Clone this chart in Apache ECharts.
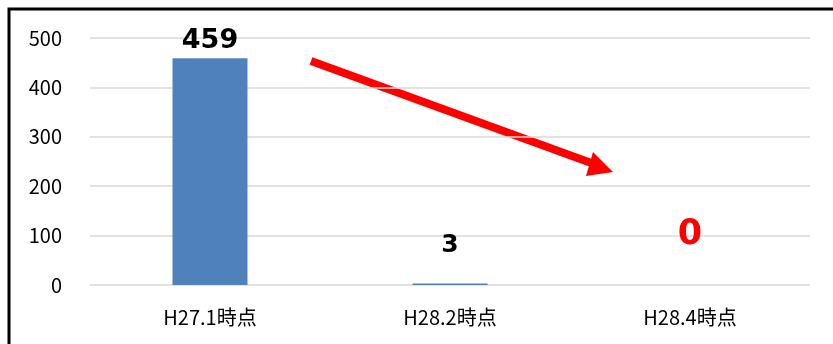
<!DOCTYPE html>
<html>
<head>
<meta charset="utf-8">
<script src="https://cdn.jsdelivr.net/npm/echarts@6/dist/echarts.min.js"></script>
<style>
  html, body { margin: 0; padding: 0; background: #fff; }
  #chart { width: 833px; height: 344px; }
</style>
</head>
<body>
<div id="chart"></div>
<script>
var categories = ['H27.1時点', 'H28.2時点', 'H28.4時点'];
var counts = [459, 3, 0];
var yTicks = [0, 100, 200, 300, 400, 500];

window.onload = function () {
    var myChart = echarts.init(document.getElementById('chart'));

    var labelStyles = [
        { fontSize: 27, color: '#000', distance: 4 },
        { fontSize: 25, color: '#000', distance: 26 },
        { fontSize: 35, color: '#ff0000', distance: 33 }
    ];

    var option = {
        animation: false,
        grid: { left: 90, right: 23, top: 38, bottom: 59 },
        xAxis: {
            type: 'category',
            data: categories,
            axisLine: { show: false },
            axisTick: { show: false },
            axisLabel: {
                color: '#000',
                fontSize: 20,
                fontFamily: 'Noto Sans CJK JP',
                margin: 22
            }
        },
        yAxis: {
            type: 'value',
            min: yTicks[0],
            max: yTicks[yTicks.length - 1],
            interval: 100,
            axisLine: { show: false },
            axisTick: { show: false },
            axisLabel: {
                color: '#000',
                fontSize: 20,
                fontFamily: 'Noto Sans CJK JP',
                margin: 28
            },
            splitLine: { lineStyle: { color: '#d9d9d9', width: 1.5 } }
        },
        series: [{
            type: 'bar',
            barWidth: 75,
            itemStyle: { color: '#4f81bd' },
            data: counts.map(function (v, i) {
                var s = labelStyles[i];
                return {
                    value: v,
                    label: {
                        show: true,
                        position: 'top',
                        distance: s.distance,
                        fontSize: s.fontSize,
                        fontWeight: 'bold',
                        fontFamily: 'DejaVu Sans',
                        color: s.color
                    }
                };
            })
        }],
        graphic: [
            {
                type: 'polyline',
                shape: { points: [[9, 344], [9, 9], [833, 9]] },
                style: { stroke: '#000', lineWidth: 3, fill: null }
            },
            {
                type: 'line',
                shape: { x1: 311, y1: 61, x2: 594, y2: 164 },
                style: { stroke: '#ff0000', lineWidth: 8 }
            },
            {
                type: 'polygon',
                shape: { points: [[613, 172], [593, 152], [586, 176]] },
                style: { fill: '#ff0000' }
            }
        ]
    };

    myChart.setOption(option);
};
</script>
</body>
</html>
